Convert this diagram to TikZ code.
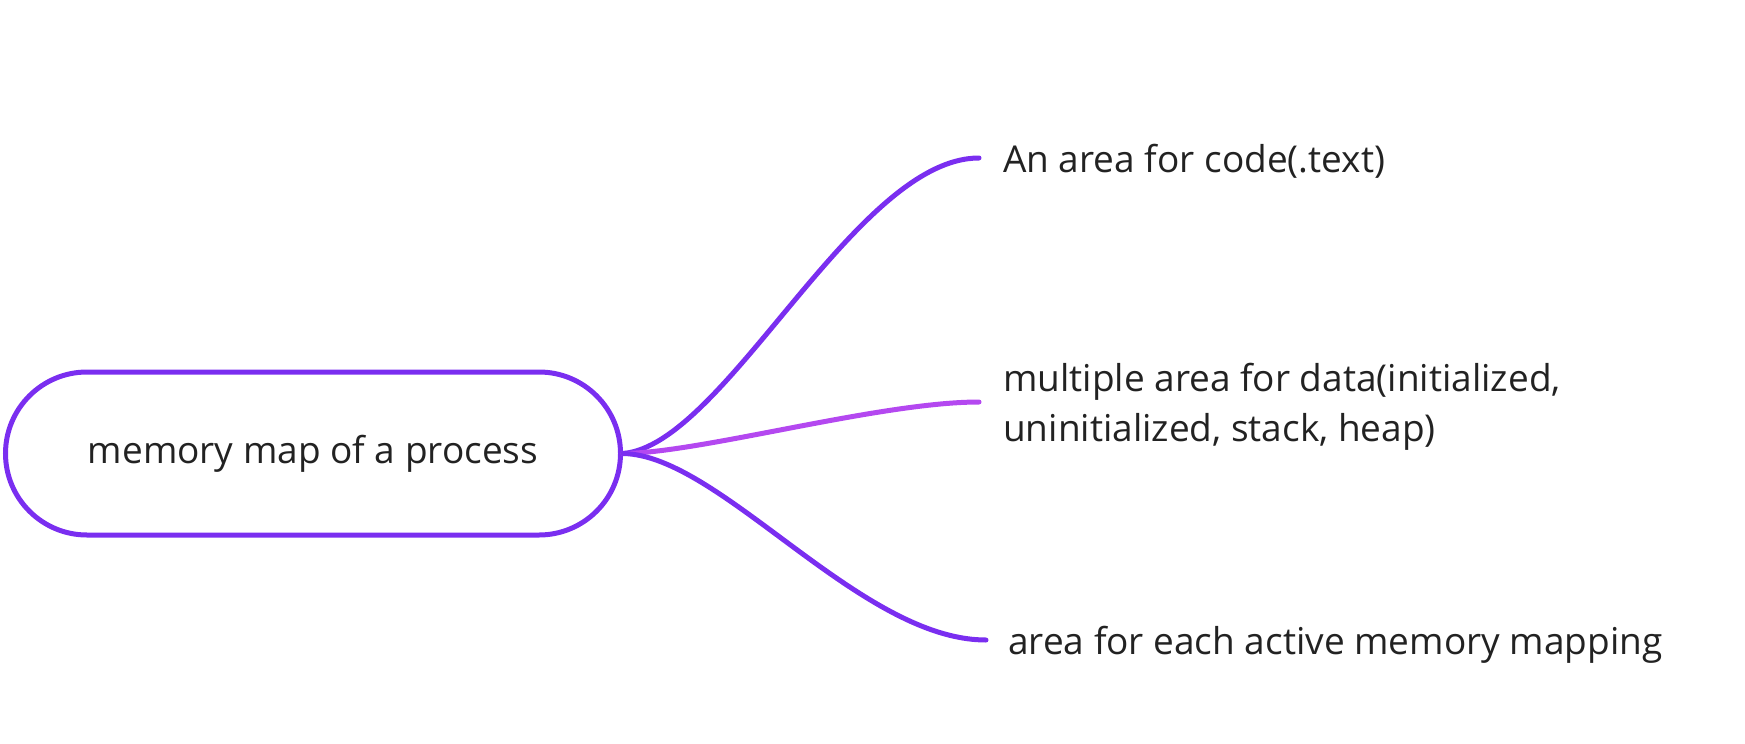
\documentclass[tikz,border=0pt]{standalone}
\usepackage{fontspec}
\setmainfont{Open Sans}
\definecolor{mainpurple}{HTML}{7A2EF0}
\definecolor{lightpurple}{HTML}{B448F0}
\definecolor{txt}{HTML}{222222}
\begin{document}
\begin{tikzpicture}[x=1pt,y=-1pt,
  rootbox/.style={draw=mainpurple, line width=5pt, rounded corners=81.5pt,
    minimum width=615pt, minimum height=163pt, inner sep=0pt,
    font=\fontsize{37}{44}\selectfont, text=txt},
  leaf/.style={anchor=base west, inner sep=0pt, align=left,
    font=\fontsize{37}{50}\selectfont, text=txt},
  branch/.style={draw=mainpurple, line width=5pt, line cap=round},
  branchlight/.style={draw=lightpurple, line width=5pt, line cap=round}]
\useasboundingbox (0,0) rectangle (1745,744);
\node[rootbox] (root) at (313,453.5) {memory map of a process};
\coordinate (e1) at (979,158);
\coordinate (e2) at (979,402);
\coordinate (e3) at (986,640);
\node[leaf] (t1) at (1003,172) {An area for code(.text)};
\node[leaf, anchor=north west] (t2) at (1003,363) {multiple area for data(initialized,\\uninitialized, stack, heap)};
\node[leaf] (t3) at (1008,654) {area for each active memory mapping};
\draw[branch] (root.east) .. controls (725,445) and (855,158) .. (e1);
\draw[branchlight] (root.east) .. controls (700,453) and (880,402) .. (e2);
\draw[branch] (root.east) .. controls (720,455) and (860,640) .. (e3);
\end{tikzpicture}
\end{document}
